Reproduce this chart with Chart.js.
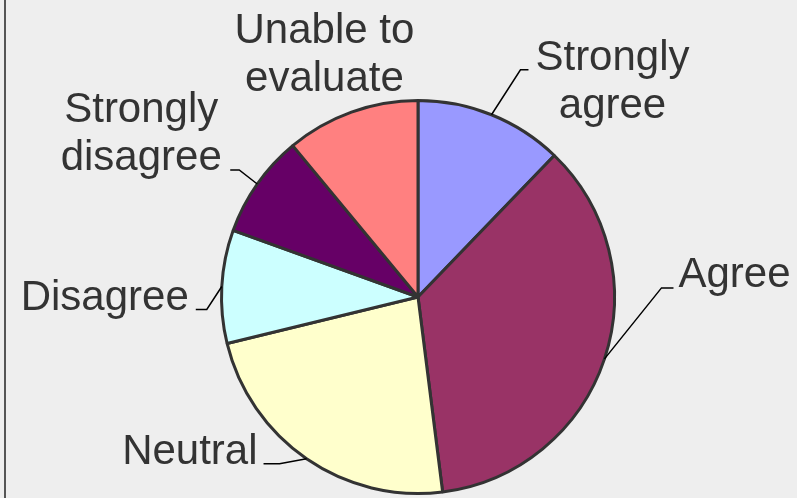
<!DOCTYPE html>
<html>
<head>
<meta charset="utf-8">
<script src="https://cdn.jsdelivr.net/npm/chart.js@4"></script>
<style>
  html, body { margin: 0; padding: 0; background: #eeeeee; }
  #wrap { position: relative; width: 797px; height: 498px; background: #eeeeee; }
  #frame { position: absolute; left: 4px; top: 0; width: 2px; height: 498px; background: #555555; }
  canvas { position: absolute; left: 0; top: 0; }
</style>
</head>
<body>
<div id="wrap">
  <canvas id="c" width="797" height="498"></canvas>
  <div id="frame"></div>
</div>
<script>
// ---- data ----
const categories = ["Strongly agree", "Agree", "Neutral", "Disagree", "Strongly disagree", "Unable to evaluate"];
const labelLines = [["Strongly", "agree"], ["Agree"], ["Neutral"], ["Disagree"], ["Strongly", "disagree"], ["Unable to", "evaluate"]];
const values = [12.2, 35.8, 23.2, 9.3, 8.5, 11.0];
const colors = ["#9999FF", "#993366", "#FFFFCC", "#CCFFFF", "#660066", "#FF8080"];

// label placement (style): offsets relative to the slice's outer mid-point
const labelStyle = [
  { dx: 121, dy: -45, align: "center", leader: [[29, -45], [37, -45]] },
  { dx: 74,  dy: -72, align: "left",   leader: [[57, -71], [69, -71]] },
  { dx: -49, dy: 5,   align: "right",  leader: [[-27, 5], [-43, 5]] },
  { dx: -33, dy: 23,  align: "right",  leader: [[-15, 23], [-26, 23]] },
  { dx: -116, dy: -62, align: "center", leader: [[-18, -14], [-27, -14]] },
  { dx: -27, dy: -69, align: "center", leader: null }
];

const pieLabels = {
  id: "pieLabels",
  afterDatasetsDraw(chart) {
    const ctx = chart.ctx;
    const meta = chart.getDatasetMeta(0);
    ctx.save();
    meta.data.forEach((arc, i) => {
      const p = arc.getProps(["x", "y", "startAngle", "endAngle", "outerRadius"], true);
      const mid = (p.startAngle + p.endAngle) / 2;
      const ax = p.x + Math.cos(mid) * p.outerRadius;
      const ay = p.y + Math.sin(mid) * p.outerRadius;
      const st = labelStyle[i];
      if (st.leader) {
        ctx.beginPath();
        ctx.strokeStyle = "#000000";
        ctx.lineWidth = 1.5;
        ctx.moveTo(ax, ay);
        st.leader.forEach(pt => ctx.lineTo(ax + pt[0], ay + pt[1]));
        ctx.stroke();
      }
      ctx.fillStyle = "#333333";
      ctx.font = "42px 'Liberation Sans', Arial, sans-serif";
      ctx.textAlign = st.align;
      ctx.textBaseline = "alphabetic";
      labelLines[i].forEach((ln, k) => {
        ctx.fillText(ln, ax + st.dx, ay + st.dy + k * 48);
      });
    });
    ctx.restore();
  }
};

new Chart(document.getElementById("c"), {
  type: "pie",
  data: {
    labels: categories,
    datasets: [{
      data: values,
      backgroundColor: colors,
      borderColor: "#333333",
      borderWidth: 3
    }]
  },
  options: {
    responsive: false,
    animation: false,
    events: [],
    layout: { padding: { left: 220, right: 181, top: 99, bottom: 3 } },
    plugins: {
      legend: { display: false },
      tooltip: { enabled: false }
    }
  },
  plugins: [pieLabels]
});
</script>
</body>
</html>
